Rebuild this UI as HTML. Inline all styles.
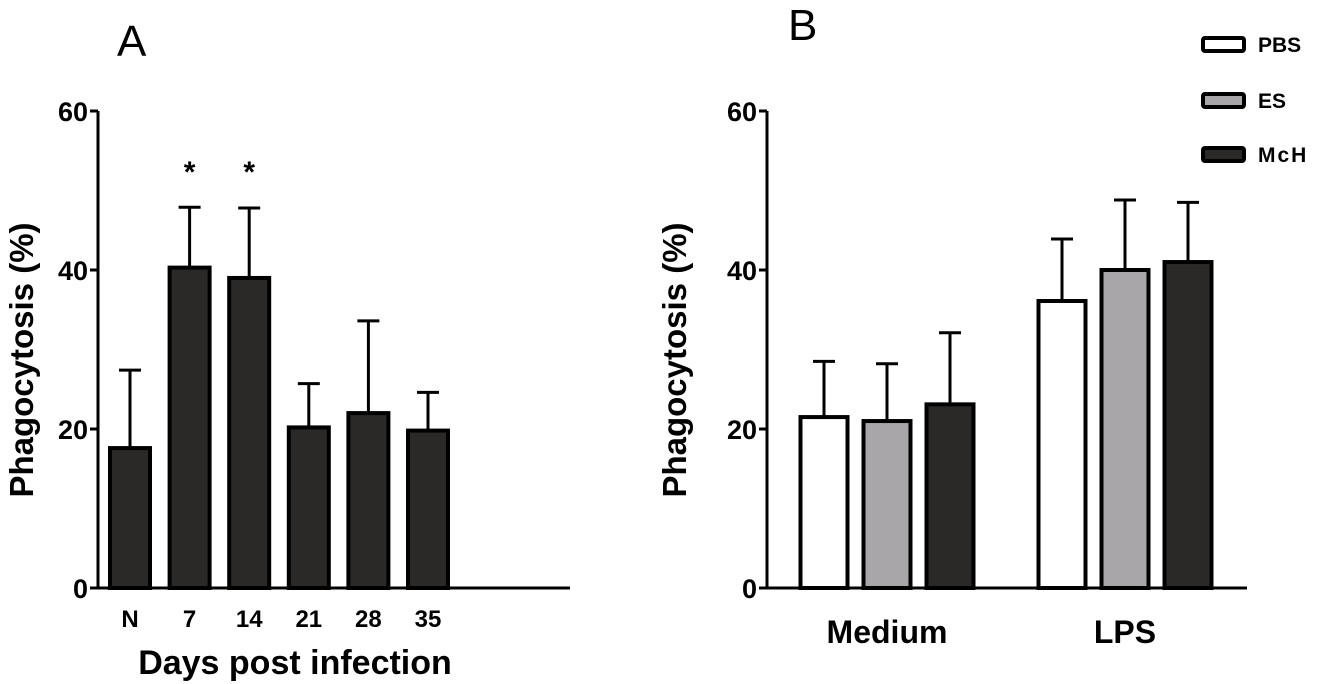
<!DOCTYPE html>
<html><head><meta charset="utf-8"><style>
body{margin:0;background:#fff}
svg{display:block;font-family:"Liberation Sans",Arial,sans-serif}
</style></head><body>
<svg id="c" width="1323" height="684" viewBox="0 0 1323 684"></svg>
<script>
const catsA=["N","7","14","21","28","35"];
const valsA=[17.6,40.3,39.0,20.2,22.0,19.8];
const errA=[27.4,47.9,47.8,25.7,33.6,24.6];
const starsA=[false,true,true,false,false,false];
const groupsB=["Medium","LPS"];
const seriesB=["PBS","ES","McH"];
const valsB=[[21.5,21.0,23.1],[36.1,40.0,41.0]];
const errB=[[28.5,28.2,32.1],[43.9,48.8,48.5]];
const ticks=[0,20,40,60];
const fillsB=["#ffffff","#a8a6a8","#2b2928"];
const svg=document.getElementById('c');
const NS="http://www.w3.org/2000/svg";
function el(t,a,txt){const e=document.createElementNS(NS,t);for(const k in a)e.setAttribute(k,a[k]);if(txt!==undefined)e.textContent=txt;svg.appendChild(e);return e;}
const y0=588,y60=111;
function Y(v){return y0-(y0-y60)*v/60;}
// Panel A
let e=el('text',{x:117,y:56,'font-size':44},'A');


const axA=98;
e=el('line',{x1:axA,y1:Y(60),x2:axA,y2:y0,stroke:'#000','stroke-width':3});


e=el('line',{x1:axA-8,y1:y0,x2:570,y2:y0,stroke:'#000','stroke-width':3});


ticks.forEach(t=>{
  e=el('line',{x1:axA-8,y1:Y(t),x2:axA,y2:Y(t),stroke:'#000','stroke-width':3});
  
  
  e=el('text',{x:axA-10,y:Y(t)+10,'font-size':27,'font-weight':'bold','text-anchor':'end'},t);
  
  
});
function XA(i){return 130+i*59.6;}
catsA.forEach((c,i)=>{
  const x=XA(i),w=40;
  e=el('line',{x1:x,y1:Y(errA[i]),x2:x,y2:Y(valsA[i]),stroke:'#000','stroke-width':3});
  
  
  e=el('line',{x1:x-11,y1:Y(errA[i]),x2:x+11,y2:Y(errA[i]),stroke:'#000','stroke-width':3});
  
  
  e=el('rect',{x:x-w/2,y:Y(valsA[i]),width:w,height:y0-Y(valsA[i]),fill:'#2b2928',stroke:'#000','stroke-width':4});
  
  
  e=el('text',{x:x,y:627,'font-size':24,'font-weight':'bold','text-anchor':'middle'},c);
  
  
  if(starsA[i]){e=el('text',{x:x,y:182,'font-size':30,'font-weight':'bold','text-anchor':'middle'},'*');
  
  }
});
e=el('text',{x:295,y:674,'font-size':34,'font-weight':'bold','text-anchor':'middle'},'Days post infection');


e=el('text',{x:0,y:0,'font-size':33,'font-weight':'bold','text-anchor':'middle',transform:'translate(33,360) rotate(-90)'},'Phagocytosis (%)');


// Panel B
e=el('text',{x:788,y:40,'font-size':44},'B');


const axB=767;
e=el('line',{x1:axB,y1:Y(60),x2:axB,y2:y0,stroke:'#000','stroke-width':3});


e=el('line',{x1:axB-8,y1:y0,x2:1247,y2:y0,stroke:'#000','stroke-width':3});


ticks.forEach(t=>{
  e=el('line',{x1:axB-8,y1:Y(t),x2:axB,y2:Y(t),stroke:'#000','stroke-width':3});
  
  
  e=el('text',{x:axB-10,y:Y(t)+10,'font-size':27,'font-weight':'bold','text-anchor':'end'},t);
  
  
});
const gC=[887,1125];
groupsB.forEach((g,gi)=>{
  seriesB.forEach((s,si)=>{
    const x=gC[gi]+(si-1)*63,w=47,v=valsB[gi][si],er=errB[gi][si];
    e=el('line',{x1:x,y1:Y(er),x2:x,y2:Y(v),stroke:'#000','stroke-width':3});
    
    
    e=el('line',{x1:x-11,y1:Y(er),x2:x+11,y2:Y(er),stroke:'#000','stroke-width':3});
    
    
    e=el('rect',{x:x-w/2,y:Y(v),width:w,height:y0-Y(v),fill:fillsB[si],stroke:'#000','stroke-width':4});
    
    
  });
  e=el('text',{x:gC[gi],y:643,'font-size':32,'font-weight':'bold','text-anchor':'middle'},g);
  
  
});
e=el('text',{x:0,y:0,'font-size':33,'font-weight':'bold','text-anchor':'middle',transform:'translate(686,360) rotate(-90)'},'Phagocytosis (%)');


const legY=[44,100,154];
seriesB.forEach((s,si)=>{
  e=el('rect',{x:1203,y:legY[si]-6,width:41,height:13,fill:fillsB[si],stroke:'#000','stroke-width':4,rx:2});
  
  
  e=el('text',{x:1258,y:legY[si]+8,'font-size':21,'font-weight':'bold','letter-spacing':s==='McH'?2:0},s);
  
  
});
</script>
</body></html>
